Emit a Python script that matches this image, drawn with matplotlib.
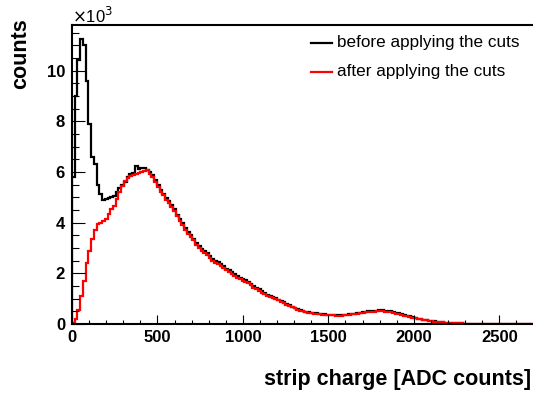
import matplotlib
matplotlib.use("Agg")
import matplotlib.pyplot as plt
import numpy as np
from matplotlib.ticker import MultipleLocator, FuncFormatter

plt.rcParams['font.family'] = ['Liberation Sans', 'DejaVu Sans']

bin_width = 16
# counts per 16-ADC bin (in units of 10^3)
before_k = [5.8, 9.0, 10.4, 11.25, 11.0, 9.6, 7.9, 6.6, 6.3, 5.5,
            5.15, 4.9, 4.95, 4.97, 5.0, 5.05, 5.2, 5.35, 5.5, 5.62,
            5.8, 5.92, 5.96, 6.25, 6.1, 6.15, 6.15, 6.08, 6.0, 5.88,
            5.7, 5.5, 5.3, 5.15, 4.97, 4.85, 4.68, 4.52, 4.32, 4.15,
            3.99, 3.8, 3.62, 3.5, 3.37, 3.2, 3.06, 2.97, 2.88, 2.8,
            2.7, 2.58, 2.5, 2.44, 2.36, 2.27, 2.19, 2.13, 2.05, 1.97,
            1.9, 1.83, 1.77, 1.72, 1.66, 1.58, 1.5, 1.43, 1.37, 1.29,
            1.23, 1.16, 1.1, 1.05, 1.01, 0.96, 0.91, 0.85, 0.79, 0.75,
            0.69, 0.65, 0.6, 0.56, 0.52, 0.49, 0.47, 0.45, 0.43, 0.42,
            0.4, 0.39, 0.38, 0.37, 0.36, 0.36, 0.35, 0.35, 0.35, 0.36,
            0.37, 0.38, 0.4, 0.41, 0.43, 0.45, 0.47, 0.48, 0.5, 0.51,
            0.52, 0.53, 0.54, 0.54, 0.53, 0.52, 0.5, 0.48, 0.45, 0.42,
            0.39, 0.36, 0.33, 0.3, 0.27, 0.24, 0.21, 0.19, 0.17, 0.15,
            0.13, 0.11, 0.1, 0.085, 0.075, 0.065, 0.055, 0.045, 0.038, 0.032,
            0.027, 0.022, 0.021, 0.019, 0.016, 0.015, 0.014, 0.013, 0.012, 0.012,
            0.011, 0.010, 0.010, 0.009, 0.009, 0.008, 0.008, 0.008, 0.007, 0.007,
            0.007, 0.006, 0.006, 0.006, 0.006, 0.005, 0.005, 0.005, 0.005]

after_k = [0.05, 0.2, 0.55, 1.1, 1.7, 2.4, 2.9, 3.35, 3.7, 3.95,
           4.0, 4.05, 4.15, 4.35, 4.55, 4.65, 4.95, 5.2, 5.45, 5.65,
           5.78, 5.85, 5.87, 5.9, 5.95, 5.98, 6.04, 6.06, 5.92, 5.8,
           5.62, 5.42, 5.22, 5.08, 4.9, 4.78, 4.6, 4.45, 4.25, 4.08,
           3.92, 3.72, 3.55, 3.42, 3.3, 3.12, 2.98, 2.9, 2.8, 2.72,
           2.62, 2.5, 2.42, 2.36, 2.28, 2.2, 2.12, 2.06, 1.98, 1.9,
           1.83, 1.76, 1.7, 1.66, 1.6, 1.52, 1.44, 1.38, 1.32, 1.24,
           1.18, 1.12, 1.06, 1.01, 0.97, 0.93, 0.88, 0.82, 0.76, 0.72,
           0.66, 0.62, 0.57, 0.53, 0.5, 0.47, 0.45, 0.43, 0.41, 0.4,
           0.38, 0.37, 0.36, 0.35, 0.34, 0.34, 0.33, 0.33, 0.33, 0.34,
           0.35, 0.36, 0.38, 0.39, 0.41, 0.43, 0.45, 0.46, 0.47, 0.48,
           0.49, 0.5, 0.5, 0.5, 0.49, 0.48, 0.46, 0.44, 0.41, 0.38,
           0.35, 0.33, 0.3, 0.28, 0.25, 0.22, 0.2, 0.18, 0.16, 0.14,
           0.12, 0.1, 0.09, 0.08, 0.07, 0.06, 0.05, 0.04, 0.035, 0.03,
           0.025, 0.02, 0.02, 0.018, 0.016, 0.015, 0.014, 0.013, 0.012, 0.012,
           0.011, 0.010, 0.010, 0.009, 0.009, 0.008, 0.008, 0.008, 0.007, 0.007,
           0.007, 0.006, 0.006, 0.006, 0.006, 0.005, 0.005, 0.005, 0.005]

x_ticks = [0, 500, 1000, 1500, 2000, 2500]
y_ticks_k = [0, 2, 4, 6, 8, 10]
labels = ["before applying the cuts", "after applying the cuts"]
colors = ["black", "#ff0000"]

before = np.array(before_k) * 1000
after = np.array(after_k) * 1000
edges = np.arange(len(before) + 1) * bin_width

fig = plt.figure(figsize=(5.33, 3.94), dpi=100)
W, H = 533, 394
ax = fig.add_axes([72 / W, 1 - 324 / H, (533.5 - 72) / W, (324 - 25) / H])

ax.stairs(before, edges, color=colors[0], lw=1.6, baseline=0)
ax.stairs(after, edges, color=colors[1], lw=1.6, baseline=0)

ax.set_xlim(0, 2700)
ax.set_ylim(0, 11800)

ax.xaxis.set_major_locator(MultipleLocator(500))
ax.xaxis.set_minor_locator(MultipleLocator(100))
ax.yaxis.set_major_locator(MultipleLocator(2000))
ax.yaxis.set_minor_locator(MultipleLocator(500))
ax.yaxis.set_major_formatter(FuncFormatter(lambda v, p: f"{v/1000:.0f}"))

ax.tick_params(axis='x', which='major', direction='in', length=6.5, width=0.8,
               pad=4, labelsize=12)
ax.tick_params(axis='x', which='minor', direction='in', length=3.2, width=0.8)
ax.tick_params(axis='y', which='major', direction='in', length=9.5, width=0.8,
               pad=5, labelsize=12)
ax.tick_params(axis='y', which='minor', direction='in', length=4.7, width=0.8)
for lab in ax.get_xticklabels() + ax.get_yticklabels():
    lab.set_fontweight('bold')

for s in ['left', 'bottom', 'top']:
    ax.spines[s].set_linewidth(1.5)
ax.spines['right'].set_visible(False)

fig.text(72 / W, 1 - 23 / H, r"$\times$10$^{3}$", fontsize=12, ha='left', va='baseline')

fig.text(21 / W, 1 - 18 / H, "counts", fontsize=15.5, fontweight='bold',
         rotation=90, ha='center', va='top')
fig.text(531 / W, 1 - 380 / H, "strip charge [ADC counts]", fontsize=15.5,
         fontweight='bold', ha='right', va='center')

# legend
ly = [(324 - 43) / 299, (324 - 71.5) / 299]
for yy, c, t in zip(ly, colors, labels):
    ax.plot([0.518, 0.563], [yy, yy], transform=ax.transAxes, color=c, lw=1.6,
            clip_on=False)
    ax.text(0.575, yy, t, transform=ax.transAxes, fontsize=12.3, ha='left',
            va='center')

fig.savefig("out.png", dpi=100)
